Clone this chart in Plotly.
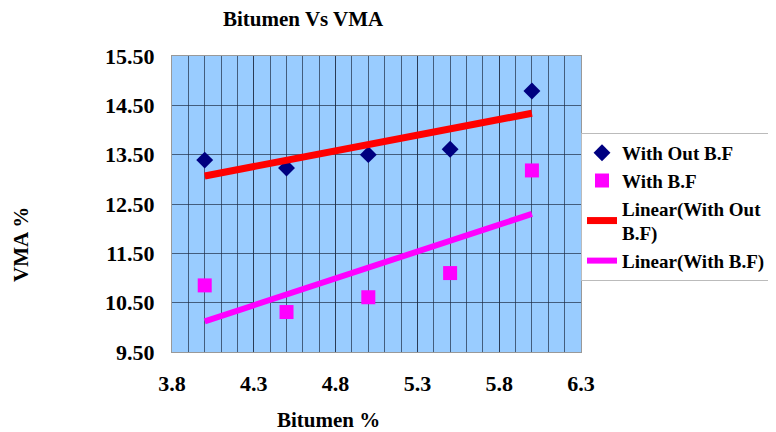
import numpy as np
import plotly.graph_objects as go

bitumen = [4.0, 4.5, 5.0, 5.5, 6.0]
vma_without_bf = [13.39, 13.23, 13.50, 13.61, 14.79]
vma_with_bf = [10.85, 10.31, 10.61, 11.10, 13.18]

x_ticks = [3.8, 4.3, 4.8, 5.3, 5.8, 6.3]
y_ticks = [9.5, 10.5, 11.5, 12.5, 13.5, 14.5, 15.5]

def trend(x, y):
    m, b = np.polyfit(x, y, 1)
    xs = [float(min(x)), float(max(x))]
    return xs, [float(m * v + b) for v in xs]

FONT = "Liberation Serif, Times New Roman, serif"

fig = go.Figure()
fig.add_trace(go.Scatter(x=bitumen, y=vma_without_bf, mode="markers", name="<b>With Out B.F</b>",
                         marker=dict(symbol="diamond", size=13, color="#000080")))
fig.add_trace(go.Scatter(x=bitumen, y=vma_with_bf, mode="markers", name="<b>With B.F</b>",
                         marker=dict(symbol="square", size=14, color="#FF00FF")))
tx, ty = trend(bitumen, vma_without_bf)
fig.add_trace(go.Scatter(x=tx, y=ty, mode="lines", name="<b>Linear(With Out<br>B.F)</b>",
                         line=dict(color="#FF0000", width=7)))
tx, ty = trend(bitumen, vma_with_bf)
fig.add_trace(go.Scatter(x=tx, y=ty, mode="lines", name="<b>Linear(With B.F)</b>",
                         line=dict(color="#FF00FF", width=6)))

# page offset of 8px (body margin)
W, H = 768, 424
L, T = 164, 48
PW, PH = 409, 296
R = W - L - PW
B = H - T - PH

grid = "rgba(30,45,70,0.7)"
fig.update_layout(
    width=W, height=H,
    margin=dict(l=L, r=R, t=T, b=B, autoexpand=False),
    paper_bgcolor="white", plot_bgcolor="#99CCFF",
    font=dict(family=FONT),
    showlegend=True,
    legend=dict(x=1.0, xanchor="left", y=0.74, yanchor="top",
                bgcolor="white", bordercolor="#BBBBBB", borderwidth=1,
                font=dict(family=FONT, size=19, color="black"),
                tracegroupgap=0, itemwidth=30),
    xaxis=dict(range=[3.8, 6.3], tickvals=x_ticks, ticktext=[f"<b>{v:.1f}</b>" for v in x_ticks],
               showgrid=True, gridcolor=grid, gridwidth=1,
               minor=dict(dtick=0.1, tick0=3.8, showgrid=True, gridcolor=grid, gridwidth=1),
               zeroline=False, showline=True, linecolor="#999999", mirror=True,
               ticks="", ticklabelstandoff=12,
               tickfont=dict(family=FONT, size=22, color="black")),
    yaxis=dict(range=[9.5, 15.5], tickvals=y_ticks, ticktext=[f"<b>{v:.2f}</b>" for v in y_ticks],
               showgrid=True, gridcolor=grid, gridwidth=1,
               zeroline=False, showline=True, linecolor="#999999", mirror=True,
               ticks="", ticklabelstandoff=12,
               tickfont=dict(family=FONT, size=22, color="black")),
)

# annotations placed by page pixel coordinates
def ann(text, px, py, size, angle=0):
    fig.add_annotation(text=f"<b>{text}</b>", xref="paper", yref="paper",
                       x=(px - 8 - L) / PW, y=(H + 8 - B - py) / PH,
                       xanchor="center", yanchor="middle", showarrow=False, textangle=angle,
                       font=dict(family=FONT, size=size, color="black"))

ann("Bitumen Vs VMA", 303, 19, 21)
ann("Bitumen %", 328, 420, 21)
ann("VMA %", 21, 245, 21, -90)

fig.write_html("out.html")
